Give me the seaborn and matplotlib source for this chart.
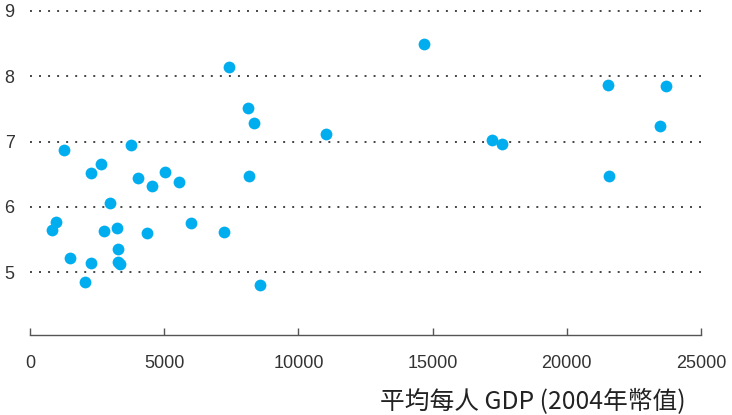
import pandas as pd
import seaborn as sns
import matplotlib.pyplot as plt
from matplotlib import font_manager

# Data
gdp = [820, 970, 1270, 1490, 2050, 2270, 2270, 2650, 2760, 2980,
       3240, 3280, 3280, 3350, 3760, 4020, 4360, 4550, 5030, 5550,
       6000, 7230, 7410, 8120, 8160, 8350, 8570, 11030, 14680, 17210,
       17590, 21530, 21570, 23470, 23700]
score = [5.64, 5.77, 6.87, 5.22, 4.85, 5.14, 6.52, 6.66, 5.63, 6.06,
         5.67, 5.35, 5.16, 5.12, 6.95, 6.44, 5.60, 6.32, 6.53, 6.38,
         5.76, 5.61, 8.14, 7.51, 6.48, 7.28, 4.81, 7.11, 8.49, 7.02,
         6.97, 7.87, 6.47, 7.24, 7.85]
x_ticks = [0, 5000, 10000, 15000, 20000, 25000]
y_ticks = [5, 6, 7, 8, 9]
x_label = '平均每人 GDP (2004年幣值)'

df = pd.DataFrame({'gdp': gdp, 'score': score})

sns.set_style('white')
names = {f.name for f in font_manager.fontManager.ttflist}
tick_font = 'Liberation Sans Narrow' if 'Liberation Sans Narrow' in names else 'Liberation Sans'
plt.rcParams['font.family'] = [tick_font, 'DejaVu Sans']

fig = plt.figure(figsize=(7.32, 4.15), dpi=100)
ax = fig.add_axes([30 / 732, 79.7 / 415, 671 / 732, 327.6 / 415])

sns.scatterplot(data=df, x='gdp', y='score', ax=ax, color='#00AEEF',
                s=72, linewidth=0, zorder=3)

ax.set_xlim(0, 25000)
ax.set_ylim(4.035, 9.05)
ax.set_xticks(x_ticks)
ax.set_yticks(y_ticks)
ax.set_xticklabels([str(t) for t in x_ticks])
ax.set_yticklabels([str(t) for t in y_ticks])
ax.set_xlabel('')
ax.set_ylabel('')

# Dotted horizontal grid
ax.yaxis.grid(True, color='#444444', linewidth=1.4, linestyle=(0, (1.0, 3.65)))
ax.xaxis.grid(False)

for side in ['top', 'right', 'left']:
    ax.spines[side].set_visible(False)
ax.spines['bottom'].set_color('#555555')
ax.spines['bottom'].set_linewidth(1.0)

ax.tick_params(axis='x', bottom=True, direction='in', length=5, width=1.0,
               color='#555555', pad=14, labelsize=13, labelcolor='#333333')
ax.tick_params(axis='y', left=False, length=0, pad=11, labelsize=13,
               labelcolor='#333333')

fig.text(686 / 732, 13 / 415, x_label, ha='right', va='center', fontsize=17.8,
         color='#222222', family=['Noto Sans CJK TC', 'DejaVu Sans'])

fig.savefig('out.png', dpi=100)
